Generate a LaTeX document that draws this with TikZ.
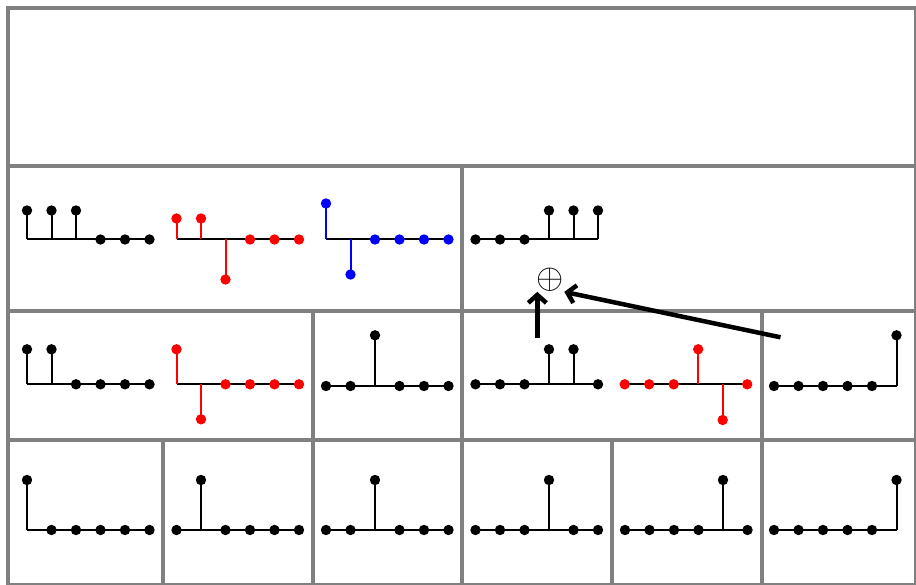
\documentclass[tikz,border=0pt]{standalone}
\usetikzlibrary{arrows.meta}
\newcommand\sigplot[4]{% #1 x0, #2 baseline y, #3 colour, #4 heights
  \draw[sigbase] (#1,#2) -- ++(122.5,0);
  \foreach \h [count=\i from 0] in {#4} {
    \pgfmathsetmacro\xx{#1+24.5*\i}
    \ifdim\h pt=0pt
      \fill[#3] (\xx,#2) circle (5.2);
    \else
      \draw[sigstem,#3] (\xx,#2) -- (\xx,#2-\h);
      \fill[#3] (\xx,#2-\h) circle (5.2);
    \fi
  }
}
\begin{document}
\begin{tikzpicture}[x=1pt,y=-1pt,
  gridline/.style={draw=gray,line width=4pt},
  sigbase/.style={draw=black,line width=2pt},
  sigstem/.style={line width=2pt},
  bigarrow/.style={line width=4.5pt,-{Straight Barb[length=8pt,width=18pt]}}]
\useasboundingbox (0,0) rectangle (916,585);
\fill[white] (0,0) rectangle (916,585);
% grid
\draw[gridline] (8,8) rectangle (916,585);
\foreach \yy in {166,311,440} \draw[gridline] (8,\yy) -- (916,\yy);
\draw[gridline] (462,166) -- (462,585);
\foreach \xx in {313,762} \draw[gridline] (\xx,311) -- (\xx,585);
\foreach \xx in {163,612} \draw[gridline] (\xx,440) -- (\xx,585);
% row 2
\sigplot{27}{239.5}{black}{29,29,29,0,0,0}
\sigplot{176.5}{239.5}{red}{21,21,-40,0,0,0}
\sigplot{326}{239.5}{blue}{36,-35,0,0,0,0}
\sigplot{475.5}{239.5}{black}{0,0,0,29,29,29}
% row 3
\sigplot{27}{384.3}{black}{35,35,0,0,0,0}
\sigplot{176.5}{384.3}{red}{35,-35,0,0,0,0}
\sigplot{326}{386}{black}{0,0,50.7,0,0,0}
\sigplot{475.5}{384.3}{black}{0,0,0,35,35,0}
\sigplot{624.7}{384.3}{red}{0,0,0,35,-35.7,0}
\sigplot{774}{386}{black}{0,0,0,0,0,50.7}
% row 4
\sigplot{27}{530}{black}{50,0,0,0,0,0}
\sigplot{176.5}{530}{black}{0,50,0,0,0,0}
\sigplot{326}{530}{black}{0,0,50,0,0,0}
\sigplot{475.5}{530}{black}{0,0,0,50,0,0}
\sigplot{625}{530}{black}{0,0,0,0,50,0}
\sigplot{774}{530}{black}{0,0,0,0,0,50}
% sum and arrows
\node[inner sep=0pt,scale=3.5] (sum) at (550,279.5) {$\oplus$};
\coordinate (a1) at (537.3,338);
\coordinate (a2) at (780.5,337.3);
\draw[bigarrow] (a1) -- (a1 |- sum.south);
\draw[bigarrow] (a2) -- (sum.south east);
\end{tikzpicture}
\end{document}
